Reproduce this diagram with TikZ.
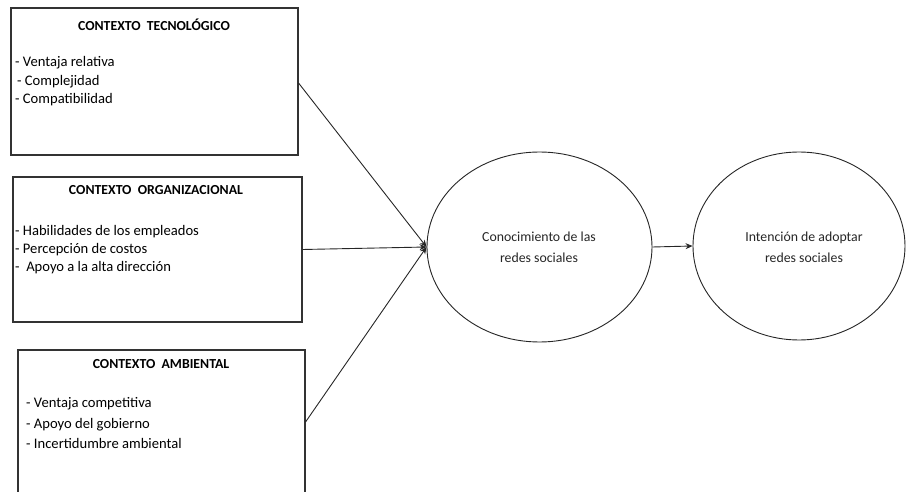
\documentclass[tikz,border=0pt]{standalone}
\usepackage{fontspec}
\setmainfont{Carlito}
\usetikzlibrary{shapes.geometric,arrows.meta}
\begin{document}
\begin{tikzpicture}[x=1pt,y=-1pt,
  ctxbox/.style={draw=black!80,line width=1.1pt,fill=white,minimum width=#1,inner sep=0pt},
  ctxtitle/.style={font=\fontsize{13.8}{16}\selectfont\bfseries},
  item/.style={anchor=west,inner sep=0pt,font=\fontsize{14.6}{17}\selectfont},
  stage/.style={draw=black!85,line width=0.9pt,ellipse,fill=white,inner sep=0pt},
  stagetext/.style={align=center,text=black!85,font=\fontsize{13.8}{21}\selectfont},
  link/.style={draw=black!85,line width=0.9pt,-{Stealth[length=7pt,width=6pt]}}]
\useasboundingbox (0,0) rectangle (906,492);
\clip (0,0) rectangle (906,492);

% three context boxes
\node[ctxbox=287pt,minimum height=147pt] (b1) at (154.5,81.5) {};
\node[ctxbox=289pt,minimum height=145pt] (b2) at (157.5,249.5) {};
\node[ctxbox=287pt,minimum height=144pt] (b3) at (161.5,422) {};

% technological context
\node[ctxtitle] (t1) at (154,25) {CONTEXTO\ \ TECNOLÓGICO};
\node[item] (i11) at (15,63) {- Ventaja relativa};
\node[item] (i12) at (17,82) {- Complejidad};
\node[item] (i13) at (15,100) {- Compatibilidad};

% organisational context
\node[ctxtitle] (t2) at (156,190) {CONTEXTO\ \ ORGANIZACIONAL};
\node[item] (i21) at (15,232) {- Habilidades de los empleados};
\node[item] (i22) at (15,250) {- Percepción de costos};
\node[item] (i23) at (15,268) {-\ \ Apoyo a la alta dirección};

% environmental context
\node[ctxtitle] (t3) at (161,364) {CONTEXTO\ \ AMBIENTAL};
\node[item] (i31) at (26,404) {- Ventaja competitiva};
\node[item] (i32) at (26,425) {- Apoyo del gobierno};
\node[item] (i33) at (26,443) {- Incertidumbre ambiental};

% the two stages
\node[stage,minimum width=225pt,minimum height=190pt] (e1) at (539.5,247) {};
\node[stagetext] (s1) at (539,247) {Conocimiento de las\\ redes sociales};
\node[stage,minimum width=212pt,minimum height=188pt] (e2) at (799,246) {};
\node[stagetext] (s2) at (804,247) {Intención de adoptar\\ redes sociales};

% connectors
\draw[link] (b1.east |- 0,83) -- (e1.west);
\draw[link] (b2.east) -- (e1.west);
\draw[link] (b3.east) -- (e1.west);
\draw[link] (e1.east) -- (e2.west);
\end{tikzpicture}
\end{document}
